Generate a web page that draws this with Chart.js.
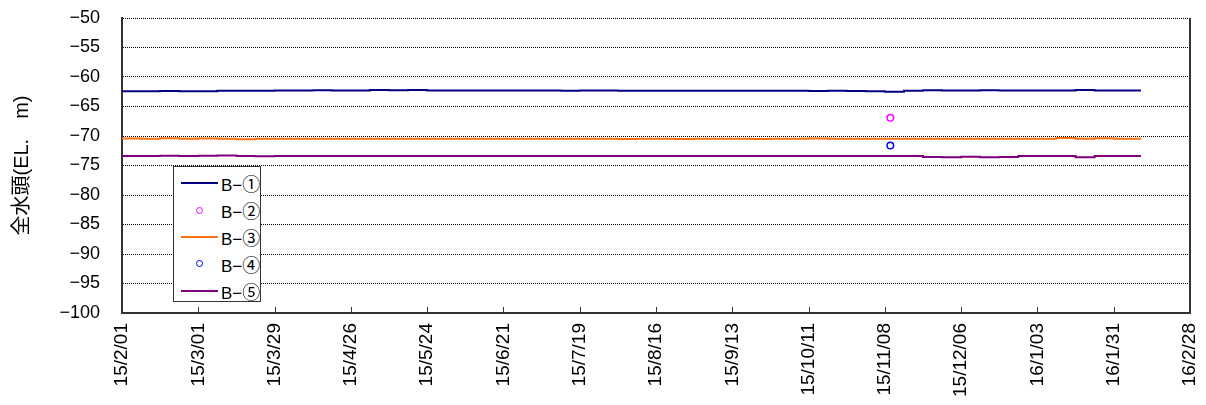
<!DOCTYPE html>
<html lang="ja">
<head>
  <meta charset="UTF-8">
  <title>全水頭</title>
  <style>
    body { margin: 0; background: #fff; }
    .wrap { position: relative; width: 1206px; height: 405px; }
    #legend {
      position: absolute; left: 173px; top: 166px; width: 88px; height: 136px;
      border: 1px solid #333; background: #fff; box-sizing: border-box;
      font-family: 'Liberation Sans', sans-serif; font-size: 17px; color: #000;
      padding-top: 3px;
    }
    .row { position: relative; height: 26.8px; }
    .row .mark { position: absolute; left: 7px; width: 37px; top: 50%; }
    .row .line { height: 2px; margin-top: -1px; }
    .row .dot { position: absolute; left: 15px; top: -3.5px; width: 7px; height: 7px; border-radius: 50%; box-sizing: border-box; border: 1.5px solid; }
    .row .txt { position: absolute; left: 47px; top: 50%; transform: translateY(-50%); white-space: nowrap; }
    .row .num { font-family: 'Noto Sans CJK JP', sans-serif; font-size: 18px; }
  </style>
</head>
<body>
  <div class="wrap">
    <canvas id="chart" width="1206" height="405"></canvas>
    <div id="legend"></div>
  </div>

  <script src="https://cdn.jsdelivr.net/npm/chart.js"></script>
  <script>
    // 観測日 (週ごと)
    const dates = [
      '2015-02-01', '2015-02-08', '2015-02-15', '2015-02-22',
      '2015-03-01', '2015-03-08', '2015-03-15', '2015-03-22', '2015-03-29',
      '2015-04-05', '2015-04-12', '2015-04-19', '2015-04-26',
      '2015-05-03', '2015-05-10', '2015-05-17', '2015-05-24', '2015-05-31',
      '2015-06-07', '2015-06-14', '2015-06-21', '2015-06-28',
      '2015-07-05', '2015-07-12', '2015-07-19', '2015-07-26',
      '2015-08-02', '2015-08-09', '2015-08-16', '2015-08-23', '2015-08-30',
      '2015-09-06', '2015-09-13', '2015-09-20', '2015-09-27',
      '2015-10-04', '2015-10-11', '2015-10-18', '2015-10-25',
      '2015-11-01', '2015-11-08', '2015-11-15', '2015-11-22', '2015-11-29',
      '2015-12-06', '2015-12-13', '2015-12-20', '2015-12-27',
      '2016-01-03', '2016-01-10', '2016-01-17', '2016-01-24', '2016-01-31',
      '2016-02-07', '2016-02-10'
    ];

    const b1 = [
      -62.40, -62.40, -62.38, -62.40,
      -62.40, -62.35, -62.32, -62.35, -62.30,
      -62.30, -62.25, -62.30, -62.30,
      -62.20, -62.25, -62.22, -62.28, -62.30,
      -62.28, -62.30, -62.30, -62.30,
      -62.30, -62.32, -62.30, -62.30,
      -62.33, -62.35, -62.33, -62.35, -62.35,
      -62.35, -62.35, -62.33, -62.35,
      -62.35, -62.38, -62.35, -62.38,
      -62.40, -62.50, -62.35, -62.25, -62.30,
      -62.28, -62.25, -62.30, -62.27,
      -62.30, -62.30, -62.20, -62.30, -62.30,
      -62.30, -62.30
    ];
    const b3 = [
      -70.42, -70.45, -70.40, -70.45,
      -70.42, -70.45, -70.55, -70.45, -70.45,
      -70.45, -70.45, -70.45, -70.45,
      -70.45, -70.45, -70.45, -70.45, -70.45,
      -70.45, -70.45, -70.45, -70.45,
      -70.45, -70.45, -70.45, -70.45,
      -70.50, -70.45, -70.48, -70.52, -70.45,
      -70.48, -70.45, -70.50, -70.45,
      -70.45, -70.42, -70.45, -70.45,
      -70.45, -70.45, -70.45, -70.45, -70.45,
      -70.45, -70.45, -70.45, -70.45,
      -70.45, -70.35, -70.45, -70.38, -70.45,
      -70.45, -70.45
    ];
    const b5 = [
      -73.38, -73.40, -73.35, -73.40,
      -73.35, -73.30, -73.40, -73.45, -73.40,
      -73.40, -73.40, -73.40, -73.40,
      -73.40, -73.40, -73.40, -73.40, -73.40,
      -73.40, -73.40, -73.40, -73.40,
      -73.40, -73.40, -73.40, -73.40,
      -73.40, -73.40, -73.40, -73.40, -73.40,
      -73.40, -73.40, -73.40, -73.40,
      -73.40, -73.40, -73.40, -73.40,
      -73.40, -73.40, -73.40, -73.55, -73.60,
      -73.50, -73.60, -73.55, -73.40,
      -73.40, -73.40, -73.60, -73.40, -73.40,
      -73.40, -73.40
    ];

    // 単発の観測値
    const b2Dates = ['2015-11-10'];
    const b2 = [-66.9];
    const b4Dates = ['2015-11-10'];
    const b4 = [-71.6];

    const tickLabels = [
      '15/2/01', '15/3/01', '15/3/29', '15/4/26', '15/5/24', '15/6/21', '15/7/19',
      '15/8/16', '15/9/13', '15/10/11', '15/11/08', '15/12/06', '16/1/03', '16/1/31', '16/2/28'
    ];

    const names = ['B−①', 'B−②', 'B−③', 'B−④', 'B−⑤'];
    const colors = ['#000080', '#ff00ff', '#ff7010', '#0000ff', '#800080'];

    const t0 = Date.parse('2015-02-01');
    const day = d => (Date.parse(d) - t0) / 86400000;
    const pts = (ds, vs) => ds.map((d, i) => ({ x: day(d), y: vs[i] }));

    const lineSet = (i, vs) => ({
      label: names[i], data: pts(dates, vs), borderColor: colors[i], backgroundColor: colors[i],
      borderWidth: 2, pointRadius: 0, stepped: true, fill: false
    });
    const dotSet = (i, ds, vs) => ({
      label: names[i], data: pts(ds, vs), showLine: false, borderColor: colors[i],
      backgroundColor: 'rgba(0,0,0,0)', pointRadius: 3.3, pointBorderWidth: 1.5, pointStyle: 'circle'
    });

    // 枠線と内向きの目盛り
    const frame = {
      id: 'frame',
      afterDraw(chart) {
        const { ctx, chartArea: a, scales: { x } } = chart;
        ctx.save();
        ctx.strokeStyle = '#333';
        ctx.lineWidth = 1;
        x.ticks.forEach(t => {
          const px = Math.round(x.getPixelForValue(t.value)) + 0.5;
          ctx.beginPath();
          ctx.moveTo(px, a.bottom);
          ctx.lineTo(px, a.bottom - 6);
          ctx.stroke();
        });
        ctx.lineWidth = 2;
        ctx.beginPath();
        ctx.moveTo(a.right, a.top);
        ctx.lineTo(a.right, a.bottom);
        ctx.stroke();
        ctx.restore();
      }
    };

    const font = "'Liberation Sans', 'Noto Sans CJK JP', sans-serif";

    new Chart(document.getElementById('chart'), {
      type: 'line',
      data: {
        datasets: [
          lineSet(0, b1),
          dotSet(1, b2Dates, b2),
          lineSet(2, b3),
          dotSet(3, b4Dates, b4),
          lineSet(4, b5)
        ]
      },
      options: {
        responsive: false,
        animation: false,
        devicePixelRatio: 1,
        layout: { padding: { top: 18, right: 16, left: 0, bottom: 0 } },
        plugins: { legend: { display: false }, tooltip: { enabled: false } },
        scales: {
          x: {
            type: 'linear', min: 0, max: 392,
            afterFit: s => { s.height = 92; s.paddingLeft = 0; s.paddingRight = 0; },
            grid: { display: false, drawTicks: false },
            border: { display: true, color: '#333', width: 2 },
            ticks: {
              stepSize: 28, autoSkip: false, maxRotation: 90, minRotation: 90, padding: 10,
              color: '#000', font: { family: font, size: 19 },
              callback: (v, i) => tickLabels[i]
            }
          },
          y: {
            min: -100, max: -50,
            afterFit: s => { s.width = 122; s.paddingTop = 0; s.paddingBottom = 0; },
            grid: { color: '#000', lineWidth: 1, drawTicks: false },
            border: { display: true, color: '#333', width: 2, dash: [1, 1] },
            ticks: {
              stepSize: 5, padding: 22, color: '#000', font: { family: font, size: 18 },
              callback: v => (v < 0 ? '−' + Math.abs(v) : String(v))
            },
            title: {
              display: true, text: '全水頭(EL.　m)', color: '#000',
              font: { family: font, size: 20 }, padding: { top: 10, bottom: 0 }
            }
          }
        }
      },
      plugins: [frame]
    });

    // 凡例
    const legend = document.getElementById('legend');
    names.forEach((n, i) => {
      const row = document.createElement('div');
      row.className = 'row';
      const mark = document.createElement('div');
      mark.className = 'mark';
      if (i % 2 === 0) {
        const l = document.createElement('div');
        l.className = 'line';
        l.style.background = colors[i];
        mark.appendChild(l);
      } else {
        const d = document.createElement('div');
        d.className = 'dot';
        d.style.borderColor = colors[i];
        mark.appendChild(d);
      }
      const txt = document.createElement('span');
      txt.className = 'txt';
      txt.appendChild(document.createTextNode(n.slice(0, -1)));
      const num = document.createElement('span');
      num.className = 'num';
      num.textContent = n.slice(-1);
      txt.appendChild(num);
      row.appendChild(mark);
      row.appendChild(txt);
      legend.appendChild(row);
    });
  </script>
</body>
</html>
